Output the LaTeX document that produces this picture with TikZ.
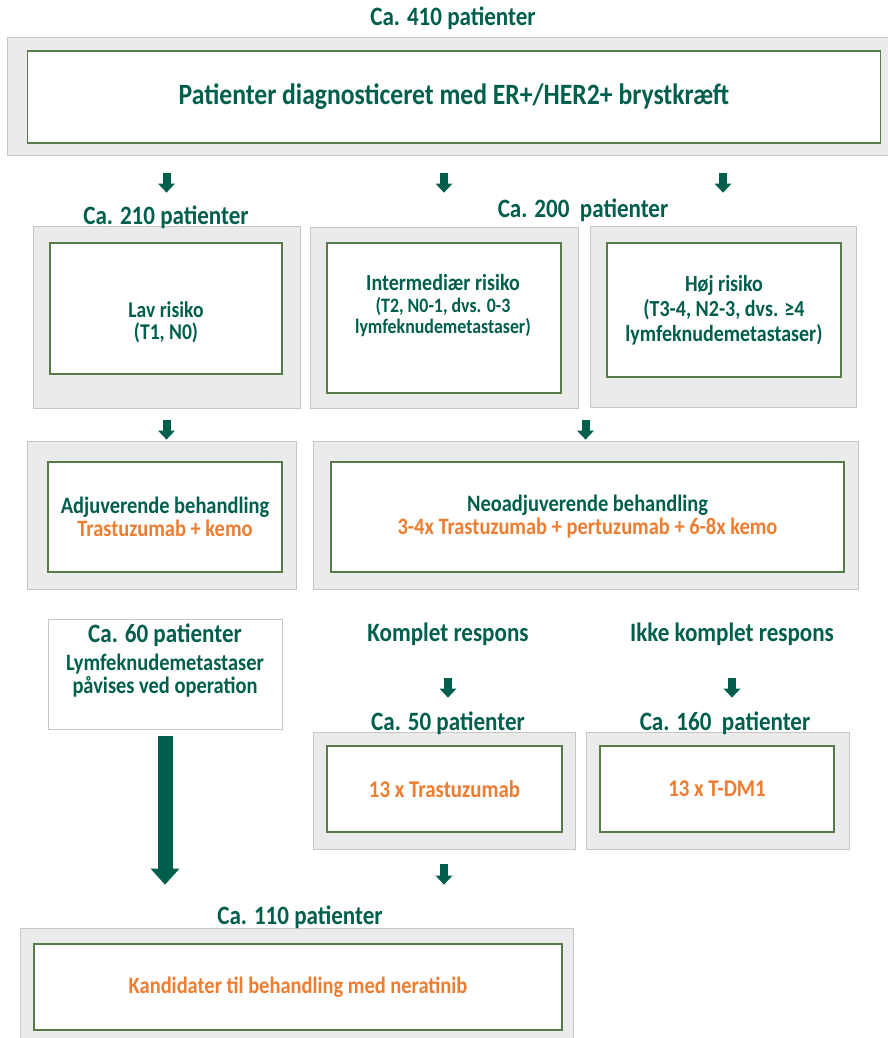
\documentclass[tikz,border=0pt]{standalone}
\usepackage{fontspec}
\setmainfont{Carlito}[FakeStretch=0.87]
\usetikzlibrary{arrows.meta}
\definecolor{textgreen}{RGB}{0,94,76}
\definecolor{framegreen}{RGB}{88,124,70}
\definecolor{boxgrey}{RGB}{235,235,235}
\definecolor{edgegrey}{RGB}{198,198,198}
\definecolor{dose}{RGB}{237,125,49}
\newcommand{\lblfont}{\fontsize{26.5}{30}\selectfont\bfseries}
\newcommand{\boxfont}{\fontsize{23.5}{23}\selectfont\bfseries}
\newcommand{\smallfont}{\fontsize{20.5}{21.5}\selectfont\bfseries}
\tikzset{
  outerbox/.style={draw=edgegrey, fill=boxgrey, line width=0.8pt, inner sep=0},
  innerbox/.style={draw=framegreen, fill=white, line width=1.2pt, inner sep=0,
    align=center, text=textgreen, font=\boxfont},
  boxtext/.style={text=textgreen, align=center, inner sep=0, font=\boxfont},
  lbl/.style={text=textgreen, align=center, inner sep=0, font=\lblfont},
  flowarrow/.style={draw=textgreen, line width=8pt,
    -{Triangle[width=17pt, length=9pt, line width=0pt]}},
  bigarrow/.style={draw=textgreen, line width=15pt,
    -{Triangle[width=29pt, length=16pt, line width=0pt]}}
}
\begin{document}
\begin{tikzpicture}[x=1pt,y=-1pt]
  \useasboundingbox (0,0) rectangle (888,1038);
  \clip (0,0) rectangle (888,1038);

  \node[lbl] (total) at (453,18) {Ca. 410 patienter};
  \node[outerbox, minimum width=888, minimum height=118] (topout) at (451,96) {};
  \node[innerbox, minimum width=853, minimum height=92,
    font=\fontsize{29.5}{32}\selectfont\bfseries] (diag) at (454,97)
    {Patienter diagnosticeret med ER+/HER2+ brystkræft};

  \node[outerbox, minimum width=267, minimum height=182] (lavout) at (166.5,317) {};
  \node[innerbox, minimum width=232, minimum height=131] (lav) at (166,308.5) {};
  \node[boxtext, font=\fontsize{22.5}{22}\selectfont\bfseries] (lavtxt) at (166,322)
    {Lav risiko\\(T1, N0)};
  \node[outerbox, minimum width=268, minimum height=181] (midout) at (444,317.5) {};
  \node[innerbox, minimum width=234, minimum height=150] (mid) at (444,318) {};
  \node[boxtext, font=\smallfont] (midtxt) at (443,306)
    {{\fontsize{23}{21.5}\selectfont Intermediær risiko}\\(T2, N0-1, dvs. 0-3\\lymfeknudemetastaser)};
  \node[outerbox, minimum width=266, minimum height=181] (hojout) at (723,316.5) {};
  \node[innerbox, minimum width=234, minimum height=134,
    font=\fontsize{23}{25}\selectfont\bfseries] (hoj) at (724,310)
    {Høj risiko\\(T3-4, N2-3, dvs. ≥4\\lymfeknudemetastaser)};
  \node[lbl] (n210) at (166,217) {Ca. 210 patienter};
  \node[lbl] (n200) at (583,210) {Ca. 200\ \ patienter};

  \node[outerbox, minimum width=269, minimum height=148] (adjout) at (161.5,515) {};
  \node[innerbox, minimum width=234, minimum height=110] (adj) at (165,517)
    {Adjuverende behandling\\\textcolor{dose}{Trastuzumab + kemo}};
  \node[outerbox, minimum width=545, minimum height=148] (neoout) at (585.5,515) {};
  \node[innerbox, minimum width=513, minimum height=110] (neo) at (587.5,517)
    {Neoadjuverende behandling\\\textcolor{dose}{3-4x Trastuzumab + pertuzumab + 6-8x kemo}};

  \node[draw=edgegrey, fill=white, line width=0.8pt, minimum width=234,
    minimum height=110] (opr) at (165,674) {};
  \node[boxtext] (oprtxt) at (165,661)
    {{\lblfont Ca. 60 patienter}\\[5pt]Lymfeknudemetastaser\\påvises ved operation};
  \node[lbl] (kompl) at (448,634) {Komplet respons};
  \node[lbl] (ikke) at (732,634) {Ikke komplet respons};

  \node[outerbox, minimum width=262, minimum height=117] (gout) at (444,790.5) {};
  \node[innerbox, minimum width=235, minimum height=86, text=dose,
    font=\fontsize{24}{26}\selectfont\bfseries] (trast) at (444.5,789) {13 x Trastuzumab};
  \node[outerbox, minimum width=263, minimum height=117] (hout) at (717.5,790.5) {};
  \node[innerbox, minimum width=234, minimum height=86, text=dose,
    font=\fontsize{24}{26}\selectfont\bfseries] (tdm) at (717,789) {13 x T-DM1};
  \node[lbl] (n50) at (448,723) {Ca. 50 patienter};
  \node[lbl] (n160) at (725,723) {Ca. 160\ \ patienter};

  \node[outerbox, minimum width=553, minimum height=122] (iout) at (296.5,989) {};
  \node[innerbox, minimum width=528, minimum height=86, text=dose] (nera) at (298,987)
    {Kandidater til behandling med neratinib};
  \node[lbl] (n110) at (300,917) {Ca. 110 patienter};

  \draw[flowarrow, shorten <=18pt, shorten >=33pt] (topout.south -| lavout) -- (lavout.north);
  \draw[flowarrow, shorten <=18pt, shorten >=34pt] (topout.south -| midout) -- (midout.north);
  \draw[flowarrow, shorten <=18pt, shorten >=33pt] (topout.south -| hojout) -- (hojout.north);
  \draw[flowarrow, shorten <=12pt, shorten >=1pt] (lavout.south) -- (lavout.south |- adjout.north);
  \draw[flowarrow, shorten <=12pt, shorten >=1pt] (neoout.north |- midout.south) -- (neoout.north);
  \draw[flowarrow, shorten <=89pt, shorten >=34pt] (kompl |- neoout.south) -- (kompl |- gout.north);
  \draw[flowarrow, shorten <=89pt, shorten >=34pt] (ikke |- neoout.south) -- (ikke |- hout.north);
  \draw[bigarrow, shorten <=7pt, shorten >=43pt] (opr.south) -- (opr.south |- iout.north);
  \draw[flowarrow, shorten <=15pt, shorten >=43pt] (gout.south) -- (gout.south |- iout.north);
\end{tikzpicture}
\end{document}
